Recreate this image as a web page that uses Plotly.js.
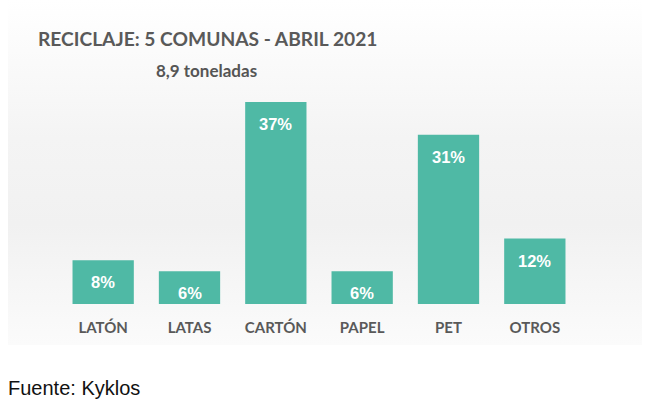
<!DOCTYPE html>
<html>
<head>
<meta charset="utf-8">
<script src="https://cdn.plot.ly/plotly-3.0.1.min.js"></script>
<style>
  html, body { margin: 0; padding: 0; background: #fff; }
  #wrap { position: relative; width: 648px; height: 407px; }
  #panel {
    position: absolute; left: 8px; top: 0; width: 634px; height: 345px;
    background: linear-gradient(to bottom, #ffffff 0%, #f4f4f4 40%, #f1f1f1 65%, #fbfbfb 100%);
  }
  #graph { position: absolute; left: 0; top: 0; width: 648px; height: 407px; }
</style>
</head>
<body>
<div id="wrap">
  <div id="panel"></div>
  <div id="graph"></div>
</div>
<script>
var categories = ["LATÓN", "LATAS", "CARTÓN", "PAPEL", "PET", "OTROS"];
var percents = [8, 6, 37, 6, 31, 12];
var labels = ["8%", "6%", "37%", "6%", "31%", "12%"];

var barColor = "#4fb9a5";

// plot area in pixels: x 60..578, y 60..304
function px(x) { return (x - 60) / 518; }
function py(y) { return (304 - y) / 244; }

var data = [{
    type: "bar",
    x: categories,
    y: percents,
    width: 0.71,
    marker: { color: barColor, line: { width: 0 } },
    hoverinfo: "none"
}];

var annotations = [];
for (var i = 0; i < categories.length; i++) {
    annotations.push({
        x: categories[i],
        y: percents[i],
        xref: "x",
        yref: "y",
        text: "<b>" + labels[i] + "</b>",
        showarrow: false,
        yanchor: "middle",
        yshift: -22,
        font: { family: "Liberation Sans, Arial, sans-serif", size: 16.5, color: "#ffffff" }
    });
}

annotations.push({
    xref: "paper", yref: "paper",
    x: px(36), y: py(38),
    xanchor: "left", yanchor: "middle",
    text: "<b>RECICLAJE: 5 COMUNAS - ABRIL 2021</b>",
    showarrow: false,
    font: { family: "Lato, sans-serif", size: 19.2, color: "#595959" }
});

annotations.push({
    xref: "paper", yref: "paper",
    x: px(206), y: py(70),
    xanchor: "center", yanchor: "middle",
    text: "<b>8,9 toneladas</b>",
    showarrow: false,
    font: { family: "Lato, sans-serif", size: 17, color: "#555555" }
});

annotations.push({
    xref: "paper", yref: "paper",
    x: px(6), y: py(388),
    xanchor: "left", yanchor: "middle",
    text: "Fuente: Kyklos",
    showarrow: false,
    font: { family: "Liberation Sans, Arial, sans-serif", size: 20, color: "#111111" }
});

layout = {
    width: 648,
    height: 407,
    paper_bgcolor: "rgba(0,0,0,0)",
    plot_bgcolor: "rgba(0,0,0,0)",
    showlegend: false,
    margin: { l: 60, r: 70, t: 60, b: 103 },
    xaxis: {
        showgrid: false,
        zeroline: false,
        showline: false,
        ticks: "",
        tickfont: { family: "Lato, sans-serif", size: 15, color: "#595959", weight: "bold" },
        ticklabelstandoff: 13
    },
    yaxis: {
        range: [0, 44.7],
        visible: false,
        showgrid: false,
        zeroline: false
    },
    annotations: annotations
};

Plotly.newPlot("graph", data, layout, { displayModeBar: false, staticPlot: true });
</script>
</body>
</html>
